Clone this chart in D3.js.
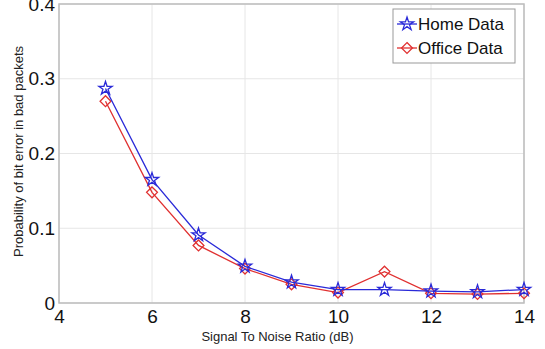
<!DOCTYPE html>
<html>
<head>
<meta charset="utf-8">
<script src="https://cdnjs.cloudflare.com/ajax/libs/d3/7.8.5/d3.min.js"></script>
<style>
  body { margin: 0; background: #fff; }
  text { font-family: "Liberation Sans", Arial, sans-serif; }
</style>
</head>
<body>
<div id="chartDiv"></div>
<script>
// data
const snr = [5, 6, 7, 8, 9, 10, 11, 12, 13, 14];
const homeData = [0.287, 0.165, 0.091, 0.049, 0.028, 0.018, 0.018, 0.016, 0.015, 0.018];
const officeData = [0.270, 0.148, 0.077, 0.046, 0.025, 0.014, 0.042, 0.013, 0.012, 0.013];
const xTicks = [4, 6, 8, 10, 12, 14];
const yTicks = [0, 0.1, 0.2, 0.3, 0.4];

const width = 545, height = 349;
const margin = { left: 59, right: 21, top: 4, bottom: 46 };
const innerW = width - margin.left - margin.right;
const innerH = height - margin.top - margin.bottom;

const svg = d3.select('#chartDiv').append('svg')
  .attr('width', width)
  .attr('height', height);

const g = svg.append('g')
  .attr('transform', `translate(${margin.left},${margin.top})`);

const x = d3.scaleLinear().domain([4, 14]).range([0, innerW]);
const y = d3.scaleLinear().domain([0, 0.4]).range([innerH, 0]);

// grid
g.selectAll('.vgrid').data(xTicks).enter().append('line')
  .attr('x1', d => x(d)).attr('x2', d => x(d))
  .attr('y1', 0).attr('y2', innerH)
  .attr('stroke', '#e6e6e6').attr('stroke-width', 1);
g.selectAll('.hgrid').data(yTicks).enter().append('line')
  .attr('x1', 0).attr('x2', innerW)
  .attr('y1', d => y(d)).attr('y2', d => y(d))
  .attr('stroke', '#e6e6e6').attr('stroke-width', 1);

// frame
g.append('rect')
  .attr('width', innerW).attr('height', innerH)
  .attr('fill', 'none').attr('stroke', '#bdbdbd').attr('stroke-width', 1.5);

// axes
const xAxis = g.append('g')
  .attr('transform', `translate(0,${innerH})`)
  .call(d3.axisBottom(x).tickValues(xTicks).tickSize(0).tickPadding(7).tickFormat(d3.format('d')));
const yAxis = g.append('g')
  .call(d3.axisLeft(y).tickValues(yTicks).tickSize(0).tickPadding(4).tickFormat(d => d === 0 ? '0' : d3.format('.1f')(d)));
[xAxis, yAxis].forEach(a => {
  a.select('.domain').remove();
  a.selectAll('text').attr('font-size', 19).attr('fill', '#111')
    .style('font-family', '"Liberation Sans", Arial, sans-serif');
});
yAxis.selectAll('text').attr('dy', '0.32em');

// axis labels
svg.append('text')
  .attr('x', margin.left + innerW / 2 - 14).attr('y', 341)
  .attr('text-anchor', 'middle').attr('font-size', 13).attr('fill', '#222')
  .text('Signal To Noise Ratio (dB)');
svg.append('text')
  .attr('transform', `translate(23,${margin.top + innerH / 2 - 2}) rotate(-90)`)
  .attr('text-anchor', 'middle').attr('font-size', 13).attr('fill', '#222')
  .text('Probability of bit error in bad packets');

const line = d3.line().x(d => x(d[0])).y(d => y(d[1]));
const star = d3.symbol().type(d3.symbolStar).size(55);
const diamond = d3.symbol().type(d3.symbolDiamond2).size(75);

const series = [
  { name: 'Office Data', values: officeData, color: '#e03030', shape: diamond },
  { name: 'Home Data', values: homeData, color: '#2a2ad8', shape: star }
];

series.forEach(s => {
  const pts = snr.map((v, i) => [v, s.values[i]]);
  g.append('path').datum(pts)
    .attr('d', line).attr('fill', 'none')
    .attr('stroke', s.color).attr('stroke-width', 1.3);
  g.selectAll(null).data(pts).enter().append('path')
    .attr('transform', d => `translate(${x(d[0])},${y(d[1])})`)
    .attr('d', s.shape).attr('fill', 'none')
    .attr('stroke', s.color).attr('stroke-width', 1.3);
});

// legend
const leg = svg.append('g').attr('transform', 'translate(393,9)');
leg.append('rect').attr('width', 122).attr('height', 54)
  .attr('fill', '#fff').attr('stroke', '#999').attr('stroke-width', 1);
[series[1], series[0]].forEach((s, i) => {
  const row = leg.append('g').attr('transform', `translate(0,${15 + i * 24})`);
  row.append('line').attr('x1', 4).attr('x2', 24)
    .attr('stroke', s.color).attr('stroke-width', 1.3);
  row.append('path').attr('transform', 'translate(14,0)')
    .attr('d', s.shape).attr('fill', 'none').attr('stroke', s.color).attr('stroke-width', 1.3);
  row.append('text').attr('x', 25).attr('dy', '0.36em')
    .attr('font-size', 17).attr('fill', '#111').text(s.name);
});
</script>
</body>
</html>
